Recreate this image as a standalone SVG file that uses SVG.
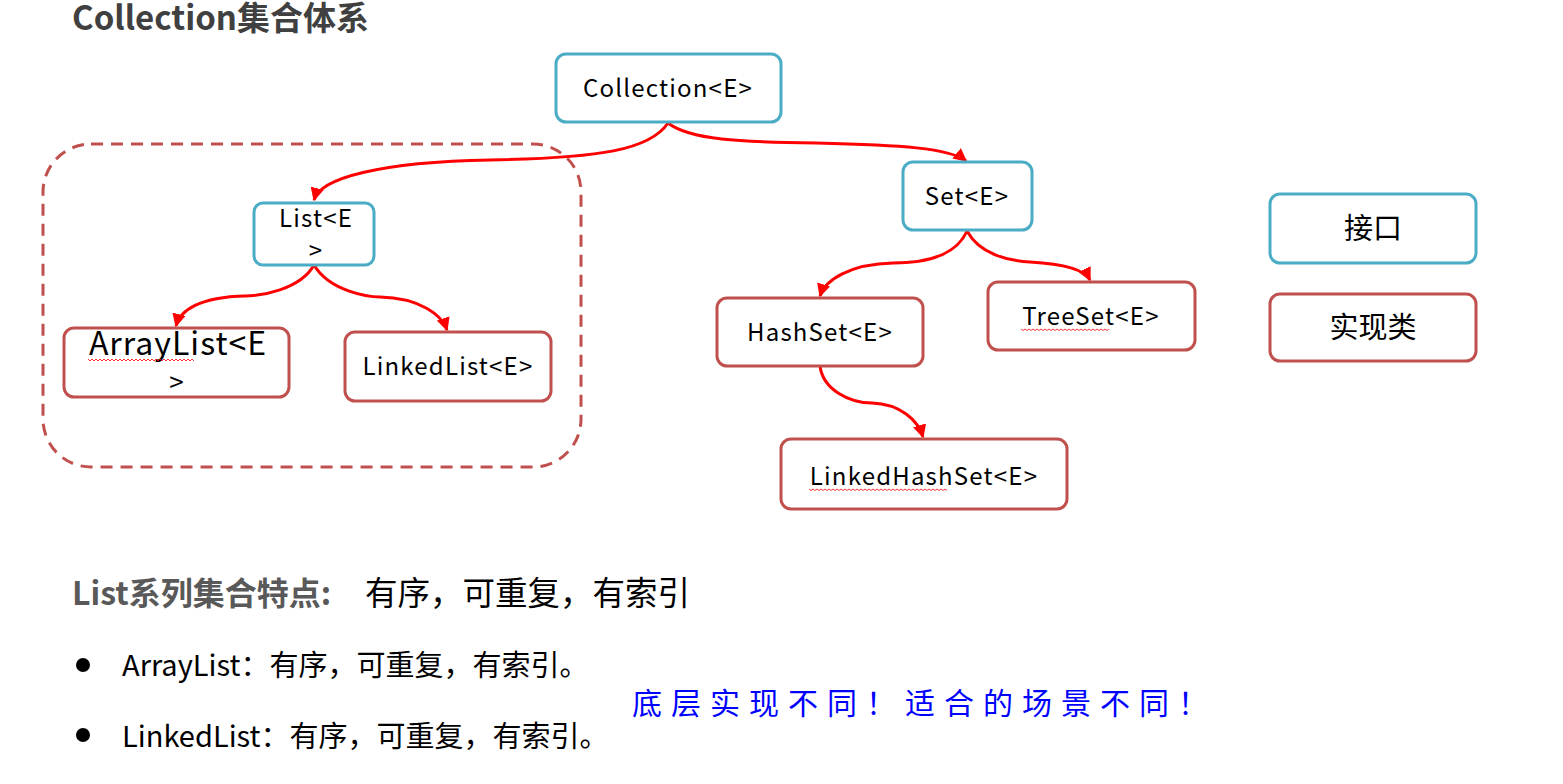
<svg xmlns="http://www.w3.org/2000/svg" width="1563" height="784" viewBox="0 0 1563 784">
<style>
  .iface{fill:#fff;stroke:#4BACC6;stroke-width:3}
  .impl{fill:#fff;stroke:#C0504D;stroke-width:3}
  .t{font-family:"Noto Sans CJK SC","Noto Sans",sans-serif;fill:#000;text-anchor:middle;font-size:24px;letter-spacing:1.2px}
  .conn{fill:none;stroke:#FF0000;stroke-width:3}
  .squig{fill:none;stroke:#FF0000;stroke-width:0.8}
  .body{font-family:"Noto Sans CJK SC","Noto Sans",sans-serif;fill:#000}
</style>
<defs>
  <marker id="ah" viewBox="0 0 10 10" refX="9" refY="5" markerWidth="4.5" markerHeight="4.5" orient="auto" markerUnits="strokeWidth">
    <path d="M0,0 L10,5 L0,10 z" fill="#FF0000"/>
  </marker>
</defs>
<rect width="1563" height="784" fill="#fff"/>

<text class="body" x="72" y="30" font-size="33" font-weight="bold" style="fill:#404040">Collection集合体系</text>

<rect id="group-list" x="43" y="144" width="538" height="323" rx="48" fill="none" stroke="#C0504D" stroke-width="3" stroke-dasharray="12 8"/>

<g id="connectors">
  <path class="conn" marker-end="url(#ah)" d="M668,123 C650,150 600,158 490,160 C380,162 320,178 314,200"/>
  <path class="conn" marker-end="url(#ah)" d="M668,123 C690,140 740,142 816,143 C900,145 950,148 966,161"/>
  <path class="conn" marker-end="url(#ah)" d="M314,265 C300,290 260,296 245,296 C200,297 180,310 176,326"/>
  <path class="conn" marker-end="url(#ah)" d="M314,265 C330,292 370,297 380,297 C420,298 442,315 447,330"/>
  <path class="conn" marker-end="url(#ah)" d="M967,231 C955,258 920,263 893,263 C850,264 825,280 820,296"/>
  <path class="conn" marker-end="url(#ah)" d="M967,231 C980,255 1010,261 1030,262 C1065,264 1085,270 1090,280"/>
  <path class="conn" marker-end="url(#ah)" d="M820,366 C823,390 850,403 872,403 C900,404 918,420 923,437"/>
</g>

<g id="node-collection">
  <rect class="iface" x="556" y="54" width="225" height="68" rx="10"/>
  <text class="t" x="668" y="97">Collection&lt;E&gt;</text>
</g>
<g id="node-set">
  <rect class="iface" x="903" y="162" width="129" height="68" rx="10"/>
  <text class="t" x="967" y="205">Set&lt;E&gt;</text>
</g>
<g id="node-list">
  <rect class="iface" x="254" y="203" width="120" height="62" rx="9"/>
  <text class="t" x="316" y="227">List&lt;E</text>
  <text class="t" x="316" y="259">&gt;</text>
</g>
<g id="node-arraylist">
  <rect class="impl" x="64" y="328" width="225" height="69" rx="10"/>
  <text class="t" x="178" y="355" style="font-size:32px;letter-spacing:1px">ArrayList&lt;E</text>
  <text class="t" x="177" y="392" style="font-size:26px">&gt;</text>
  <path class="squig" d="M88,359 l2,2 l2,-2 l2,2 l2,-2 l2,2 l2,-2 l2,2 l2,-2 l2,2 l2,-2 l2,2 l2,-2 l2,2 l2,-2 l2,2 l2,-2 l2,2 l2,-2 l2,2 l2,-2 l2,2 l2,-2 l2,2 l2,-2 l2,2 l2,-2 l2,2 l2,-2 l2,2 l2,-2 l2,2 l2,-2 l2,2 l2,-2 l2,2 l2,-2 l2,2 l2,-2 l2,2 l2,-2 l2,2 l2,-2 l2,2 l2,-2 l2,2 l2,-2 l2,2 l2,-2 l2,2 l2,-2 l2,2 l2,-2 l2,2"/>
</g>
<g id="node-linkedlist">
  <rect class="impl" x="345" y="332" width="206" height="69" rx="10"/>
  <text class="t" x="448" y="375">LinkedList&lt;E&gt;</text>
</g>
<g id="node-hashset">
  <rect class="impl" x="717" y="298" width="206" height="68" rx="10"/>
  <text class="t" x="820" y="341">HashSet&lt;E&gt;</text>
</g>
<g id="node-treeset">
  <rect class="impl" x="988" y="282" width="207" height="68" rx="10"/>
  <text class="t" x="1091" y="325">TreeSet&lt;E&gt;</text>
  <path class="squig" d="M1021,329 l2,1.5 l2,-1.5 l2,1.5 l2,-1.5 l2,1.5 l2,-1.5 l2,1.5 l2,-1.5 l2,1.5 l2,-1.5 l2,1.5 l2,-1.5 l2,1.5 l2,-1.5 l2,1.5 l2,-1.5 l2,1.5 l2,-1.5 l2,1.5 l2,-1.5 l2,1.5 l2,-1.5 l2,1.5 l2,-1.5 l2,1.5 l2,-1.5 l2,1.5 l2,-1.5 l2,1.5 l2,-1.5 l2,1.5 l2,-1.5 l2,1.5 l2,-1.5 l2,1.5 l2,-1.5 l2,1.5 l2,-1.5 l2,1.5 l2,-1.5 l2,1.5 l2,-1.5 l2,1.5 l2,-1.5"/>
</g>
<g id="node-linkedhashset">
  <rect class="impl" x="781" y="439" width="286" height="70" rx="10"/>
  <text class="t" x="924" y="485">LinkedHashSet&lt;E&gt;</text>
  <path class="squig" d="M809,489 l2,1.5 l2,-1.5 l2,1.5 l2,-1.5 l2,1.5 l2,-1.5 l2,1.5 l2,-1.5 l2,1.5 l2,-1.5 l2,1.5 l2,-1.5 l2,1.5 l2,-1.5 l2,1.5 l2,-1.5 l2,1.5 l2,-1.5 l2,1.5 l2,-1.5 l2,1.5 l2,-1.5 l2,1.5 l2,-1.5 l2,1.5 l2,-1.5 l2,1.5 l2,-1.5 l2,1.5 l2,-1.5 l2,1.5 l2,-1.5 l2,1.5 l2,-1.5 l2,1.5 l2,-1.5 l2,1.5 l2,-1.5 l2,1.5 l2,-1.5 l2,1.5 l2,-1.5 l2,1.5 l2,-1.5 l2,1.5 l2,-1.5 l2,1.5 l2,-1.5 l2,1.5 l2,-1.5 l2,1.5 l2,-1.5 l2,1.5 l2,-1.5 l2,1.5 l2,-1.5 l2,1.5 l2,-1.5 l2,1.5 l2,-1.5 l2,1.5 l2,-1.5 l2,1.5 l2,-1.5 l2,1.5 l2,-1.5 l2,1.5 l2,-1.5 l2,1.5"/>
</g>
<g id="legend-interface">
  <rect class="iface" x="1270" y="194" width="206" height="69" rx="10"/>
  <text class="t" x="1373" y="239" style="font-size:29px;letter-spacing:0">接口</text>
</g>
<g id="legend-impl">
  <rect class="impl" x="1270" y="294" width="206" height="67" rx="10"/>
  <text class="t" x="1373" y="338" style="font-size:29px;letter-spacing:0">实现类</text>
</g>

<text class="body" x="72" y="605" font-size="32" font-weight="bold" style="fill:#595959">List系列集合特点:</text>
<text class="body" x="365" y="605" font-size="32.5">有序，可重复，有索引</text>

<circle cx="83" cy="665" r="7" fill="#000"/>
<text class="body" x="122" y="676" font-size="29">ArrayList：有序，可重复，有索引。</text>
<circle cx="83" cy="735" r="7" fill="#000"/>
<text class="body" x="122" y="747" font-size="29">LinkedList：有序，可重复，有索引。</text>

<text class="body" x="632" y="714" font-size="30" letter-spacing="9" style="fill:#0000FF">底层实现不同！适合的场景不同！</text>
</svg>
